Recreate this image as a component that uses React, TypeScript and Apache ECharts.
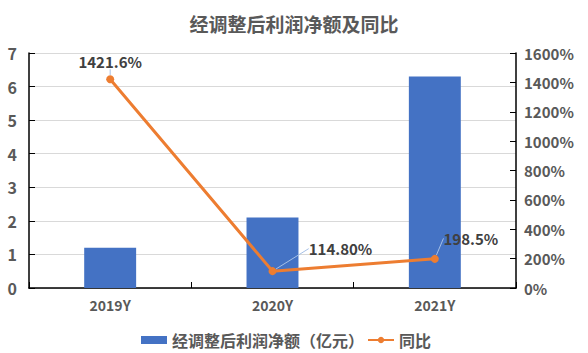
import React, { useEffect, useRef } from "react";
import * as echarts from "echarts";

const categories = ["2019Y", "2020Y", "2021Y"];
const profitValues = [1.2, 2.1, 6.3];
const yoyValues = [1421.6, 114.8, 198.5];
const yoyLabels = ["1421.6%", "114.80%", "198.5%"];
const leftTicks = [0, 1, 2, 3, 4, 5, 6, 7];
const rightTicks = [0, 200, 400, 600, 800, 1000, 1200, 1400, 1600];

const FONT = "'Noto Sans CJK SC', 'Noto Sans', sans-serif";
const GRAY = "#595959";

export default function App() {
  const ref = useRef<HTMLDivElement>(null);
  useEffect(() => {
    const chart = echarts.init(ref.current!, null, { renderer: "svg" });
    chart.setOption({
      animation: false,
      backgroundColor: "#ffffff",
      textStyle: { fontFamily: FONT },
      title: {
        text: "经调整后利润净额及同比",
        left: "center",
        top: 9,
        textStyle: { fontFamily: FONT, fontSize: 19, fontWeight: "bold", color: GRAY },
      },
      grid: { left: 29, right: 72, top: 53, bottom: 65 },
      legend: {
        top: 327,
        left: 136,
        itemGap: 3,
        itemWidth: 26,
        itemHeight: 8,
        textStyle: { fontFamily: FONT, fontSize: 16, fontWeight: "bold", color: GRAY },
        data: [
          { name: "经调整后利润净额（亿元）", icon: "rect" },
          { name: "同比" },
        ],
      },
      xAxis: {
        type: "category",
        data: categories,
        axisLine: { lineStyle: { color: "#000", width: 1.5 } },
        axisTick: { show: true, inside: true, length: 6, lineStyle: { color: "#000" } },
        axisLabel: { fontFamily: FONT, fontSize: 14, fontWeight: "bold", color: GRAY, margin: 10 },
      },
      yAxis: [
        {
          type: "value",
          min: leftTicks[0],
          max: leftTicks[leftTicks.length - 1],
          interval: 1,
          axisLine: { show: true, lineStyle: { color: "#000", width: 1.5 } },
          axisTick: { show: true, inside: true, length: 6, lineStyle: { color: "#000" } },
          axisLabel: { fontFamily: FONT, fontSize: 16, fontWeight: "bold", color: GRAY, margin: 12 },
          splitLine: { show: true, lineStyle: { color: "#d9d9d9" } },
        },
        {
          type: "value",
          min: rightTicks[0],
          max: rightTicks[rightTicks.length - 1],
          interval: 200,
          axisLine: { show: true, lineStyle: { color: "#000", width: 1.5 } },
          axisTick: { show: true, inside: true, length: 6, lineStyle: { color: "#000" } },
          axisLabel: {
            fontFamily: FONT,
            fontSize: 15,
            fontWeight: "bold",
            color: GRAY,
            margin: 8,
            formatter: (v: number) => v + "%",
          },
          splitLine: { show: false },
        },
      ],
      series: [
        {
          name: "经调整后利润净额（亿元）",
          type: "bar",
          data: profitValues,
          barWidth: "32%",
          itemStyle: { color: "#4472C4" },
        },
        {
          name: "同比",
          type: "line",
          yAxisIndex: 1,
          data: yoyValues,
          symbol: "circle",
          symbolSize: 8,
          itemStyle: { color: "#ED7D31" },
          lineStyle: { color: "#ED7D31", width: 3 },
          label: {
            show: true,
            position: "top",
            distance: 6,
            fontFamily: FONT,
            fontSize: 15,
            fontWeight: "bold",
            color: "#404040",
            formatter: (p: any) => yoyLabels[p.dataIndex],
          },
          labelLine: {
            show: true,
            lineStyle: { color: "#a6c0e6", width: 1 },
          },
          labelLayout: (p: any) => {
            if (p.dataIndex === 1) return { dx: 68, dy: -5 };
            if (p.dataIndex === 2) return { dx: 36, dy: -3 };
            return {};
          },
        },
      ],
    });
    return () => chart.dispose();
  }, []);
  return (
    <div
      ref={ref}
      style={{ position: "fixed", left: 0, top: 0, width: 588, height: 353 }}
    />
  );
}
